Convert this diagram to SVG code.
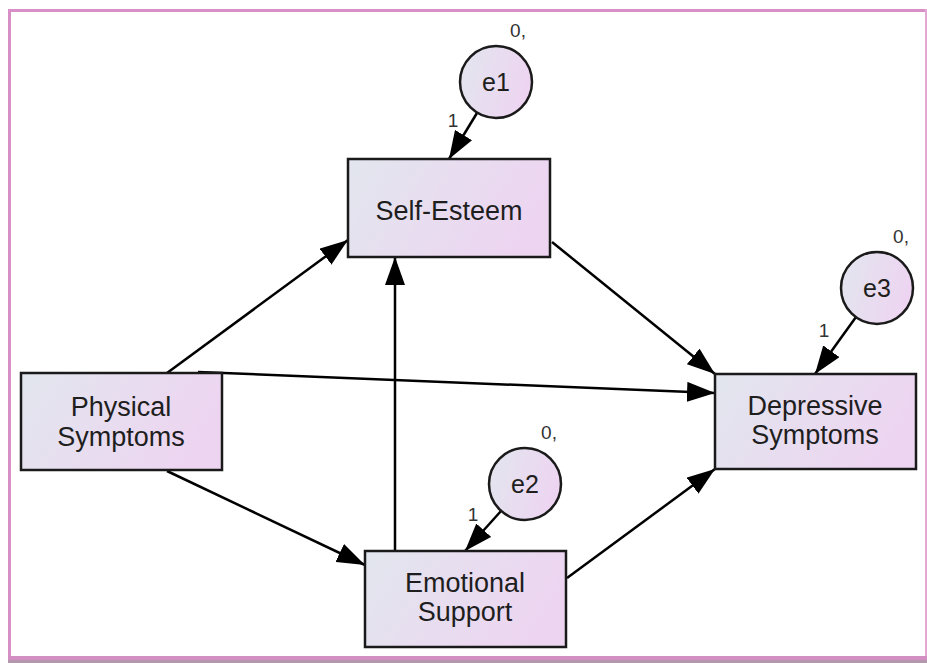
<svg xmlns="http://www.w3.org/2000/svg" width="927" height="663" viewBox="0 0 927 663">
  <defs>
    <linearGradient id="fillGrad" x1="0" y1="0" x2="1" y2="0.3">
      <stop offset="0" stop-color="#e2e6ee"/>
      <stop offset="1" stop-color="#edd5f1"/>
    </linearGradient>
    <marker id="arrow" markerWidth="28" markerHeight="20" refX="28" refY="10" orient="auto" markerUnits="userSpaceOnUse">
      <path d="M0,0 L28,10 L0,20 Z" fill="#000"/>
    </marker>
    <style>
      .box { fill: url(#fillGrad); stroke: #1a1a1a; stroke-width: 2.5; }
      .err { fill: url(#fillGrad); stroke: #1a1a1a; stroke-width: 2.5; }
      .lbl { font-family: "Liberation Sans", Arial, sans-serif; font-size: 27px; fill: #1e1e1e; text-anchor: middle; }
      .elbl { font-family: "Liberation Sans", Arial, sans-serif; font-size: 25px; fill: #1e1e1e; text-anchor: middle; }
      .par { font-family: "Liberation Sans", Arial, sans-serif; font-size: 19px; fill: #333; text-anchor: middle; }
      .edge { stroke: #000; stroke-width: 2.5; fill: none; marker-end: url(#arrow); }
    </style>
  </defs>

  <rect x="0" y="0" width="927" height="663" fill="#fff"/>

  <!-- frame -->
  <g id="frame">
    <rect x="8" y="9" width="919" height="3" fill="#d88fc6"/>
    <rect x="8" y="9" width="3" height="648" fill="#d88fc6"/>
    <rect x="925" y="9" width="2" height="648" fill="#e3a6d6"/>
    <rect x="8" y="656" width="919" height="4" fill="#d48fc2"/>
    <rect x="8" y="660" width="919" height="3" fill="#b497ad"/>
  </g>

  <!-- paths -->
  <g id="connectors">
    <line class="edge" x1="167" y1="373" x2="348" y2="240"/>
    <line class="edge" x1="198" y1="372" x2="715" y2="393"/>
    <line class="edge" x1="167" y1="471" x2="365" y2="565"/>
    <line class="edge" x1="395" y1="551" x2="395" y2="257"/>
    <line class="edge" x1="552" y1="242" x2="715" y2="374"/>
    <line class="edge" x1="567" y1="578" x2="715" y2="469"/>
    <line class="edge" x1="477" y1="113" x2="449" y2="159"/>
    <line class="edge" x1="501" y1="511" x2="465" y2="551"/>
    <line class="edge" x1="856" y1="317" x2="815" y2="374"/>
  </g>

  <g id="self-esteem">
    <rect class="box" x="348" y="159" width="202" height="98"/>
    <text class="lbl" x="449" y="220">Self-Esteem</text>
  </g>

  <g id="physical-symptoms">
    <rect class="box" x="21" y="373" width="201" height="97"/>
    <text class="lbl" x="121" y="416">Physical</text>
    <text class="lbl" x="121" y="446">Symptoms</text>
  </g>

  <g id="depressive-symptoms">
    <rect class="box" x="715" y="374" width="201" height="95"/>
    <text class="lbl" x="815" y="415">Depressive</text>
    <text class="lbl" x="815" y="444">Symptoms</text>
  </g>

  <g id="emotional-support">
    <rect class="box" x="365" y="551" width="201" height="96"/>
    <text class="lbl" x="465" y="592">Emotional</text>
    <text class="lbl" x="465" y="621">Support</text>
  </g>

  <g id="e1">
    <circle class="err" cx="496" cy="82" r="36"/>
    <text class="elbl" x="496" y="91">e1</text>
    <text class="par" x="518" y="37">0,</text>
    <text class="par" x="453" y="127">1</text>
  </g>

  <g id="e2">
    <circle class="err" cx="525" cy="484" r="36"/>
    <text class="elbl" x="525" y="493">e2</text>
    <text class="par" x="549" y="439">0,</text>
    <text class="par" x="473" y="521">1</text>
  </g>

  <g id="e3">
    <circle class="err" cx="877" cy="288" r="36"/>
    <text class="elbl" x="877" y="297">e3</text>
    <text class="par" x="901" y="243">0,</text>
    <text class="par" x="824" y="337">1</text>
  </g>
</svg>
